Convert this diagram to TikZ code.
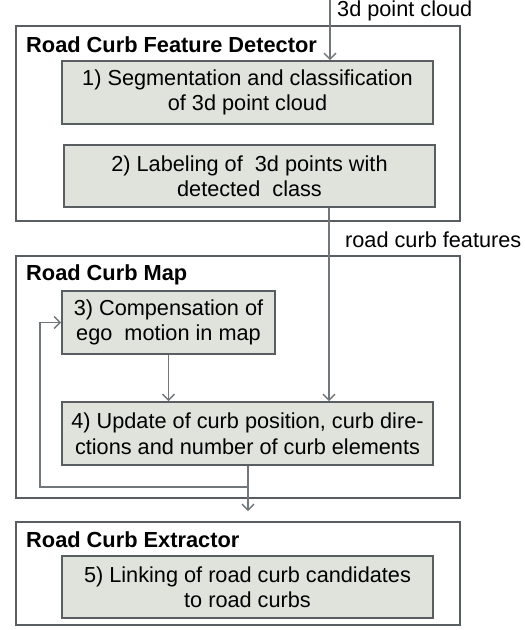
\documentclass[tikz,border=0pt]{standalone}
\usepackage{fontspec}
\setmainfont{Liberation Sans}
\usepackage{tikz}
\usetikzlibrary{arrows.meta, calc}

\definecolor{boxfill}{RGB}{224,226,220}
\definecolor{boxline}{RGB}{88,94,98}
\definecolor{arrline}{RGB}{112,118,122}

\begin{document}
\begin{tikzpicture}[x=1pt, y=-1pt, >={Straight Barb[length=6pt,width=12pt]},
 font=\fontsize{21.7}{25.5}\selectfont,
 group/.style={draw=boxline, line width=1.6pt, fill=none, shape=rectangle, inner sep=0pt},
 title/.style={anchor=west, inner sep=0pt, font=\fontsize{21.8}{25}\selectfont\bfseries},
 task/.style={draw=boxline, line width=1.6pt, fill=boxfill, shape=rectangle,
   align=center, inner sep=0pt},
 flow/.style={->, draw=arrline, line width=1.4pt}]

  \useasboundingbox (0,0) rectangle (525,630);

  % outer modules
  \node[group, minimum width=444pt, minimum height=195pt] (det) at (238,123.5) {};
  \node[group, minimum width=444pt, minimum height=242pt] (map) at (238,377) {};
  \node[group, minimum width=444pt, minimum height=103pt] (ext) at (238,573.5) {};

  \node[title] (dettitle) at (26,45) {Road Curb Feature Detector};
  \node[title] (maptitle) at (26,275) {Road Curb Map};
  \node[title] (exttitle) at (26,540) {Road Curb Extractor};

  % processing steps
  \node[task, minimum width=371pt, minimum height=63pt] (seg) at (247.5,92.5)
    {1) Segmentation and classification\\of 3d point cloud};
  \node[task, minimum width=371pt, minimum height=62pt] (lab) at (249.5,176)
    {2) Labeling of\ \ 3d points with\\detected\ \ class};
  \node[task, minimum width=213pt, minimum height=63pt] (comp) at (168.5,322.5)
    {3) Compensation of\\ego\ \ motion in map};
  \node[task, minimum width=371pt, minimum height=63pt] (upd) at (247.5,433.5)
    {4) Update of curb position, curb dire-\\ctions and number of curb elements};
  \node[task, minimum width=371pt, minimum height=62pt] (link) at (247.5,587)
    {5) Linking of road curb candidates\\to road curbs};

  % connectors
  \coordinate (in) at (330,0);
  \coordinate (feat) at (329,0);
  \coordinate (fb) at (248,0);
  \coordinate (loop) at (40,487);

  \node[anchor=west, inner sep=0pt] (inlabel) at (337,11) {3d point cloud};
  \node[anchor=west, inner sep=0pt] (featlabel) at (345,240) {road curb features};

  \draw[flow] (in) -- (in |- seg.north);
  \draw[flow] (lab.south -| feat) -- (upd.north -| feat);
  \draw[flow] (comp.south) -- (comp.south |- upd.north);
  \draw[flow] (upd.south -| fb) |- (loop) |- (comp.west);
  \draw[flow, shorten >=10pt] (upd.south -| fb) -- (ext.north -| fb);
\end{tikzpicture}
\end{document}
